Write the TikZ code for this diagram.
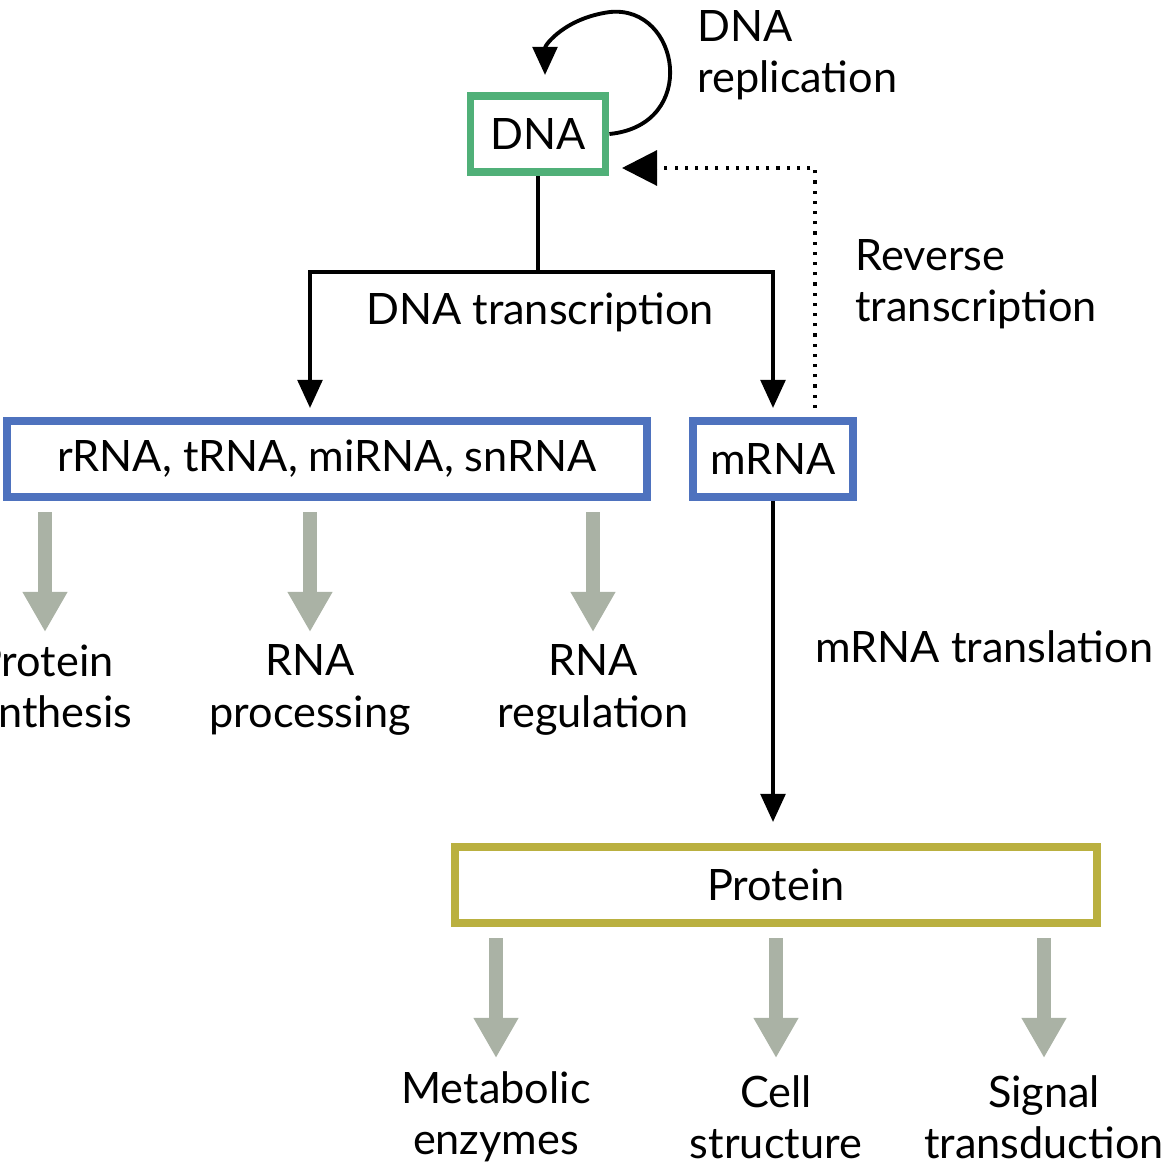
\documentclass[tikz,border=0pt]{standalone}
\usepackage{fontspec}
\setmainfont{Lato}
\usetikzlibrary{arrows.meta, positioning, calc}
\definecolor{dnagreen}{RGB}{80, 176, 120}
\definecolor{rnablue}{RGB}{78, 114, 190}
\definecolor{protolive}{RGB}{186, 176, 64}
\definecolor{usegray}{RGB}{170, 178, 165}

\begin{document}
\begin{tikzpicture}[x=0.01cm, y=-0.01cm,
    molbox/.style={rectangle, draw, line width=2.2pt, inner sep=0pt,
                   font=\fontsize{12.3}{15}\selectfont},
    lbl/.style={align=center, font=\fontsize{12.3}{14.6}\selectfont},
    flow/.style={-{Triangle[width=7pt,length=8pt]}, line width=1.1pt},
    use/.style={-{Triangle[width=0.42cm,length=0.4cm]}, line width=0.14cm, usegray}]
    \useasboundingbox (0,0) rectangle (1172,1176);
    \clip (0,0) rectangle (1172,1176);

    % Molecules
    \node[molbox, draw=dnagreen, minimum width=1.35cm, minimum height=0.76cm] (dna) at (538,134) {DNA};
    \node[molbox, draw=rnablue, minimum width=6.4cm, minimum height=0.76cm] (ncrna) at (327,459) {rRNA, tRNA, miRNA, snRNA};
    \node[molbox, draw=rnablue, minimum width=1.6cm, minimum height=0.76cm] (mrna) at (773,459) {mRNA};
    \node[molbox, draw=protolive, minimum width=6.41cm, minimum height=0.76cm] (protein) at (776,885) {Protein};

    % Replication loop
    \draw[flow] (dna.east) .. controls (700,125) and (680,5) .. (610,12)
        .. controls (565,18) and (545,45) .. (545,75);
    \node[lbl, align=left, anchor=west] (repl) at (685,55) {DNA\\replication};

    % Transcription
    \coordinate (split) at (538,272);
    \draw[line width=1.1pt] (dna.south) -- (split);
    \draw[flow] (split) -| (310,408);
    \draw[flow] (split) -| (773,408);
    \node[lbl] (trans) at (540,312) {DNA transcription};

    % Reverse transcription
    \draw[dotted, line width=0.9pt, -{Triangle[width=10pt,length=10pt]}] (815,408) |- (622,168);
    \node[lbl, align=left, anchor=west] (rev) at (843,284) {Reverse\\transcription};

    % Translation
    \draw[flow] (mrna.south) -- (773,822);
    \node[lbl, anchor=west] (tl) at (803,647) {mRNA translation};

    % Functions of RNA
    \draw[use] (45,512) -- (45,632);
    \draw[use] (310,512) -- (310,632);
    \draw[use] (593,512) -- (593,632);
    \node[lbl] (psyn) at (45,690) {Protein\\synthesis};
    \node[lbl] (rproc) at (310,690) {RNA\\processing};
    \node[lbl] (rreg) at (593,690) {RNA\\regulation};

    % Functions of protein
    \draw[use] (496,938) -- (496,1058);
    \draw[use] (776,938) -- (776,1058);
    \draw[use] (1044,938) -- (1044,1058);
    \node[lbl] (meta) at (496,1117) {Metabolic\\enzymes};
    \node[lbl] (cell) at (776,1117) {Cell\\structure};
    \node[lbl] (sig) at (1044,1117) {Signal\\transduction};
\end{tikzpicture}
\end{document}
